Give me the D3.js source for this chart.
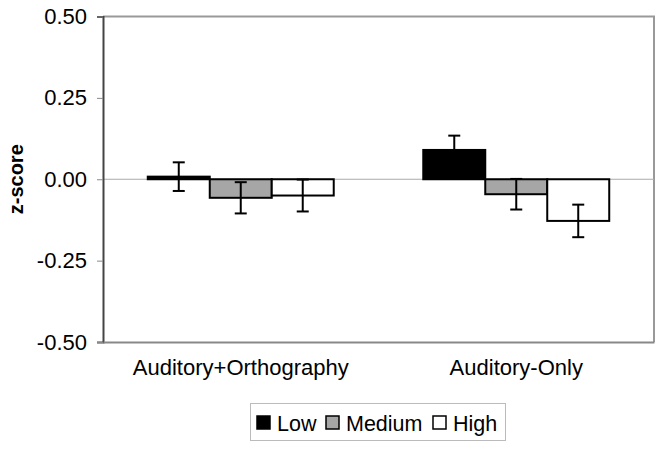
<!DOCTYPE html>
<html>
<head>
<meta charset="utf-8">
<script src="https://cdn.jsdelivr.net/npm/d3@7"></script>
<style>
body{margin:0;background:#fff;}
text{font-family:"Liberation Sans",Arial,sans-serif;}
</style>
</head>
<body>
<svg id="chart" width="664" height="450"></svg>
<script>
const categories = ["Auditory+Orthography", "Auditory-Only"];
const seriesNames = ["Low", "Medium", "High"];
const lowValues = [0.008, 0.090];
const mediumValues = [-0.057, -0.046];
const highValues = [-0.050, -0.128];
const lowErrors = [0.044, 0.044];
const mediumErrors = [0.048, 0.047];
const highErrors = [0.049, 0.050];
const yTicks = [0.50, 0.25, 0.00, -0.25, -0.50];
const seriesFills = ["#000000", "#a6a6a6", "#ffffff"];

const values = [lowValues, mediumValues, highValues];
const errors = [lowErrors, mediumErrors, highErrors];

const svg = d3.select("#chart");
const L = 103, R = 654, T = 16.5, B = 342;

const y = d3.scaleLinear().domain([-0.5, 0.5]).range([B, T]);
const x0 = d3.scaleBand().domain(categories).range([L, R]).paddingInner(0.325).paddingOuter(0.1625);
const x1 = d3.scaleBand().domain(seriesNames).range([0, x0.bandwidth()]);

// plot border (top, right)
svg.append("path")
  .attr("d", `M${L},${T}H${R}V${B}`)
  .attr("fill", "none").attr("stroke", "#999").attr("stroke-width", 2);

// zero line
svg.append("line")
  .attr("x1", L).attr("x2", R).attr("y1", y(0)).attr("y2", y(0))
  .attr("stroke", "#aaa").attr("stroke-width", 1);

// bars
const data = [];
categories.forEach((c, ci) => {
  seriesNames.forEach((s, si) => {
    data.push({c, s, v: values[si][ci], e: errors[si][ci], fill: seriesFills[si]});
  });
});

svg.append("g").selectAll("rect").data(data).join("rect")
  .attr("x", d => x0(d.c) + x1(d.s))
  .attr("y", d => y(Math.max(0, d.v)))
  .attr("width", x1.bandwidth())
  .attr("height", d => Math.abs(y(d.v) - y(0)))
  .attr("fill", d => d.fill)
  .attr("stroke", "#000").attr("stroke-width", 2);

// error bars
const eb = svg.append("g").attr("stroke", "#000").attr("stroke-width", 2);
data.forEach(d => {
  const cx = x0(d.c) + x1(d.s) + x1.bandwidth() / 2;
  const y1 = y(d.v + d.e), y2 = y(d.v - d.e);
  eb.append("line").attr("x1", cx).attr("x2", cx).attr("y1", y1).attr("y2", y2);
  eb.append("line").attr("x1", cx - 6).attr("x2", cx + 6).attr("y1", y1).attr("y2", y1);
  eb.append("line").attr("x1", cx - 6).attr("x2", cx + 6).attr("y1", y2).attr("y2", y2);
});

// y axis
const fmt = d3.format(".2f");
const yAxis = d3.axisLeft(y).tickValues(yTicks).tickSize(6).tickPadding(10)
  .tickFormat(d => fmt(d).replace("\u2212", "-"));
const gy = svg.append("g").attr("transform", `translate(${L},0)`).call(yAxis);
gy.select(".domain").attr("stroke", "#444").attr("stroke-width", 2);
gy.selectAll(".tick line").attr("stroke", "#888").attr("stroke-width", 1);
gy.selectAll(".tick text").attr("font-size", 22).attr("fill", "#000")
  .attr("font-family", "Liberation Sans, Arial, sans-serif");

// x axis
const xAxis = d3.axisBottom(x0).tickSize(0).tickPadding(17);
const gx = svg.append("g").attr("transform", `translate(0,${B})`).call(xAxis);
gx.select(".domain").attr("stroke", "#888").attr("stroke-width", 2);
gx.selectAll(".tick text").attr("font-size", 22).attr("fill", "#000")
  .attr("font-family", "Liberation Sans, Arial, sans-serif");

// y label
svg.append("text")
  .attr("transform", `translate(23,${(T + B) / 2}) rotate(-90)`)
  .attr("text-anchor", "middle")
  .attr("font-size", 20).attr("font-weight", "bold")
  .text("z-score");

// legend
const lg = svg.append("g");
lg.append("rect").attr("x", 250.5).attr("y", 403.5).attr("width", 255).attr("height", 37)
  .attr("fill", "#fff").attr("stroke", "#bbb").attr("stroke-width", 1);
const legendX = [257, 326, 433];
seriesNames.forEach((s, i) => {
  lg.append("rect").attr("x", legendX[i]).attr("y", 416).attr("width", 13).attr("height", 13)
    .attr("fill", seriesFills[i]).attr("stroke", "#000").attr("stroke-width", 1.5);
  lg.append("text").attr("x", legendX[i] + 20).attr("y", 431)
    .attr("font-size", 21.5).text(s);
});
</script>
</body>
</html>
